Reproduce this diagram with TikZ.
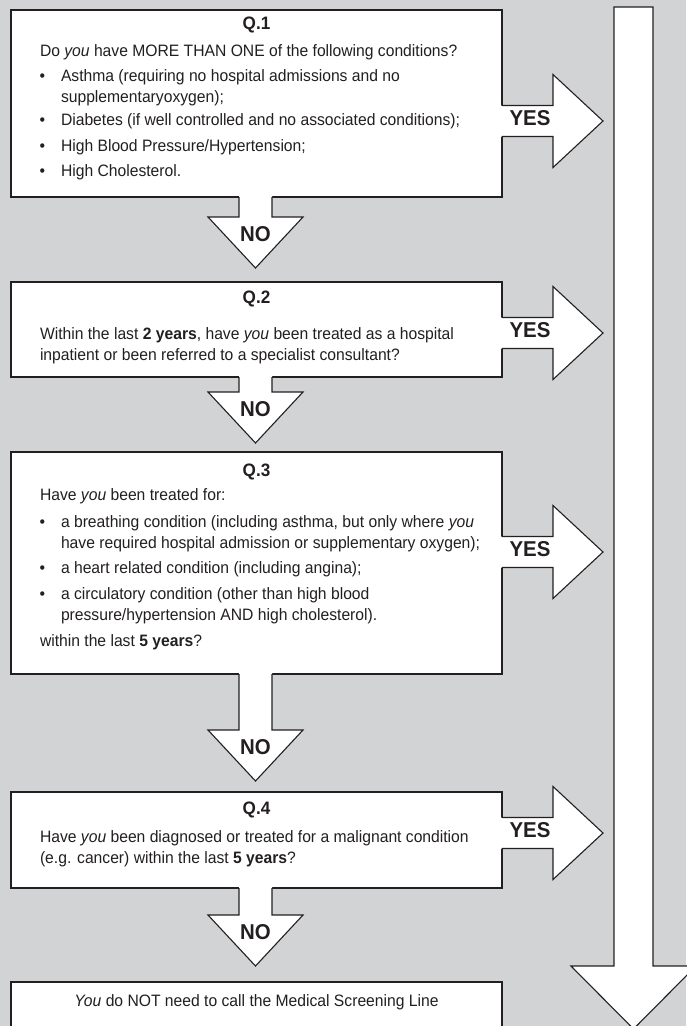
\documentclass[tikz,border=0pt]{standalone}
\usepackage{fontspec}
\setmainfont{Liberation Sans}[FakeStretch=0.95]
\definecolor{bg}{RGB}{209,211,212}
\definecolor{edge}{RGB}{35,31,32}
\definecolor{ink}{RGB}{35,31,32}
\newcommand\YesArrow[2]{%
  \fill[white] (500,{#1-15.5}) -- (553,{#1-15.5}) -- (553,{#1-46.5}) -- (603,{#1}) -- (553,{#1+46.5}) -- (553,{#1+15.5}) -- (500,{#1+15.5}) -- cycle;
  \draw[blk] (502,{#1-15.5}) -- (553,{#1-15.5}) -- (553,{#1-46.5}) -- (603,{#1}) -- (553,{#1+46.5}) -- (553,{#1+15.5}) -- (502,{#1+15.5});
  \node[lbl] (#2) at (530,{#1+2}) {YES};}
\newcommand\NoArrow[3]{%
  \fill[white] (239,{#1-2}) -- (239,{#2}) -- (208,{#2}) -- (255.5,{#2+51}) -- (303,{#2}) -- (272,{#2}) -- (272,{#1-2}) -- cycle;
  \draw[blk] (239,{#1}) -- (239,{#2}) -- (208,{#2}) -- (255.5,{#2+51}) -- (303,{#2}) -- (272,{#2}) -- (272,{#1});
  \node[lbl] (#3) at (255.5,{#2+22}) {NO};}
\begin{document}
\begin{tikzpicture}[x=1pt,y=-1pt,
  every node/.style={inner sep=0pt, outer sep=0pt, text=ink},
  box/.style={draw=edge, fill=white, line width=1.1pt},
  blk/.style={draw=edge, line width=1.1pt, line join=miter},
  body/.style={anchor=mid west, font=\fontsize{16.5}{20}\selectfont},
  ttl/.style={anchor=mid, font=\fontsize{18}{20}\selectfont\bfseries},
  lbl/.style={anchor=mid, font=\fontsize{21.5}{24}\selectfont\bfseries}
]
\fill[bg] (0,0) rectangle (686,1026);
\useasboundingbox (0,0) rectangle (686,1026);

% big arrow on the right
\draw[blk, fill=white] (614,7) -- (653,7) -- (653,966) -- (696,966) -- (633.5,1029) -- (571,966) -- (614,966) -- cycle;

% boxes
\node[box, minimum width=491pt, minimum height=187pt] (q1) at (256.5,103.5) {};
\node[box, minimum width=491pt, minimum height=95pt] (q2) at (256.5,329.5) {};
\node[box, minimum width=491pt, minimum height=222pt] (q3) at (256.5,563) {};
\node[box, minimum width=491pt, minimum height=96pt] (q4) at (256.5,840) {};
\node[box, minimum width=491pt, minimum height=60pt] (fin) at (256.5,1012) {};

% arrows
\YesArrow{121}{y1}
\YesArrow{333}{y2}
\YesArrow{552}{y3}
\YesArrow{833}{y4}
\NoArrow{197}{217}{n1}
\NoArrow{377}{392}{n2}
\NoArrow{674}{730}{n3}
\NoArrow{888}{915}{n4}

% Q1
\node[ttl] (q1t) at (256.5,27) {Q.1};
\node[body] (q1a) at (40,54) {Do \textit{you} have MORE THAN ONE of the following conditions?};
\node[body] (q1b1) at (39.5,79) {•};
\node[body] (q1i1) at (61,79) {Asthma (requiring no hospital admissions and no};
\node[body] (q1i1b) at (61,100) {supplementaryoxygen);};
\node[body] (q1b2) at (39.5,123) {•};
\node[body] (q1i2) at (61,123) {Diabetes (if well controlled and no associated conditions);};
\node[body] (q1b3) at (39.5,149) {•};
\node[body] (q1i3) at (61,149) {High Blood Pressure/Hypertension;};
\node[body] (q1b4) at (39.5,174) {•};
\node[body] (q1i4) at (61,174) {High Cholesterol.};

% Q2
\node[ttl] (q2t) at (256.5,301) {Q.2};
\node[body] (q2a) at (40,337) {Within the last \textbf{2 years}, have \textit{you} been treated as a hospital};
\node[body] (q2b) at (40,358) {inpatient or been referred to a specialist consultant?};

% Q3
\node[ttl] (q3t) at (256.5,474) {Q.3};
\node[body] (q3a) at (40,498) {Have \textit{you} been treated for:};
\node[body] (q3b1) at (39.5,525) {•};
\node[body] (q3i1) at (61,525) {a breathing condition (including asthma, but only where \textit{you}};
\node[body] (q3i1b) at (61,546) {have required hospital admission or supplementary oxygen);};
\node[body] (q3b2) at (39.5,571) {•};
\node[body] (q3i2) at (61,571) {a heart related condition (including angina);};
\node[body] (q3b3) at (39.5,597) {•};
\node[body] (q3i3) at (61,597) {a circulatory condition (other than high blood};
\node[body] (q3i3b) at (61,618) {pressure/hypertension AND high cholesterol).};
\node[body] (q3z) at (40,644) {within the last \textbf{5 years}?};

% Q4
\node[ttl] (q4t) at (256.5,812) {Q.4};
\node[body] (q4a) at (40,840) {Have \textit{you} been diagnosed or treated for a malignant condition};
\node[body] (q4b) at (40,861) {(e.g. cancer) within the last \textbf{5 years}?};

% final
\node[anchor=mid, font=\fontsize{16.5}{20}\selectfont] (fint) at (256.5,1004) {\textit{You} do NOT need to call the Medical Screening Line};
\end{tikzpicture}
\end{document}
